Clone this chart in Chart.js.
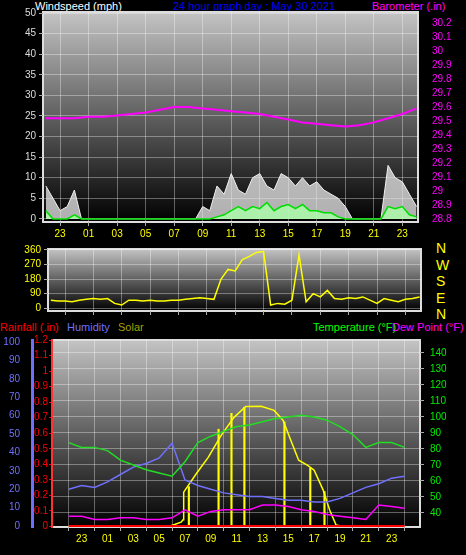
<!DOCTYPE html>
<html><head><meta charset="utf-8">
<script src="https://cdn.jsdelivr.net/npm/chart.js@4.4.0/dist/chart.umd.min.js"></script>
<style>
body{margin:0;background:#000;width:466px;height:555px;overflow:hidden;position:relative;font-family:"Liberation Sans",Arial,sans-serif}
canvas{position:absolute;left:0}
.t{position:absolute;font-size:11px;white-space:nowrap;line-height:12px}
</style></head><body>
<div class="t" style="left:35px;top:0;color:#fff">Windspeed (mph)</div>
<div class="t" style="left:173px;top:0;color:#0000ff">24 hour graph day : May 30 2021</div>
<div class="t" style="left:372px;top:0;color:#ff00ff">Barometer (.in)</div>
<div class="t" style="left:0;top:321px;color:#ff0000">Rainfall (.in)</div>
<div class="t" style="left:67px;top:321px;color:#7070ff">Humidity</div>
<div class="t" style="left:118px;top:321px;color:#a0a000">Solar</div>
<div class="t" style="left:313px;top:321px;color:#00ff00">Temperature (°F)</div>
<div class="t" style="left:392px;top:321px;color:#ff00ff">Dew Point (°F)</div>
<div class="t" style="left:436px;top:240px;color:#ffff00;font-size:14px;line-height:16.5px">N<br>W<br>S<br>E<br>N</div>
<canvas id="c1" width="466" height="245" style="top:0"></canvas>
<canvas id="c2" width="466" height="80" style="top:240px"></canvas>
<canvas id="c3" width="466" height="235" style="top:320px"></canvas>
<script>
// half-hour samples from hour 22 (prev day) to 48
const windHours = Array.from({length:53},(_, i)=>22+i*0.5);
const windGust = [8,5,2,3,7,0, 0,0,0,0,0,0,0,0,0,0,0,0,0,0,0,0,
 3,2,8,6,11,7,6,10,11,8,7,11,10,8,10,8,9,7,6,5,3, 0,0,0,0,0, 13,10,9,6,3];
const windAvg = [2,0,0,0,1,0, 0,0,0,0,0,0,0,0,0,0,0,0,0,0,0,0,
 0,0,0.5,1,2,3,2,3,2.5,4,2,3,3.5,2.5,3.5,2,2,1.5,1.5,0.5,0, 0,0,0,0,0, 3,2.5,3,1,0.5];
const windDir = [50,45,45,40,50,55,60,55,60,30,20,50,50,45,50,45,45,50,50,55,60,65,60,55,
 180,240,230,300,320,345,350,20,30,25,50,330,40,90,70,110,60,55,65,60,70,50,30,60,50,40,55,60,70];
// hourly samples from hour 22 to 48
const hours = Array.from({length:27},(_, i)=>22+i);
const barometer = [29.52,29.52,29.52,29.53,29.53,29.54,29.55,29.56,29.58,29.6,29.6,29.59,29.58,29.57,29.56,29.55,29.53,29.51,29.49,29.48,29.47,29.46,29.47,29.49,29.52,29.55,29.59];
const temperature = [84,81,81,79,73,70,67,65,63,72,84,88,91,94,95,97,99,100,101,100,98,94,89,81,84,84,81];
const humidity = [20,22,21,24,28,32,34,37,45,25,22,20,18,17,16,16,15,14,14,13,13,15,18,21,23,26,27];
const dewPoint = [38,38,36,36,37,37,36,36,37,42,38,41,42,42,42,45,45,44,42,41,39,38,37,36,45,44,43];
const rainfall = [0,0,0,0,0,0,0,0,0,0,0,0,0,0,0,0,0,0,0,0,0,0,0,0,0,0,0];
const solarHours = [22,29.6,30.2,30.7,30.85,30.9,31.9,32.8,33.8,34.8,35.7,36.9,37.9,38.6,39.1,39.8,40.5,41,41.7,42.2,42.7,43.4,48];
const solarValues = [0,0,20,40,60,285,440,570,750,897,986,987,954,872,734,546,505,465,302,139,16,0,0];
const solarSpikeHours = [31.3,33.6,34.6,35.6,38.7,40.7,41.8];
const solarSpikeValues = [330,800,930,980,860,480,290];
const timeTicks = [23,25,27,29,31,33,35,37,39,41,43,45,47];

const pts=(xs,ys)=>xs.map((x,i)=>({x,y:ys[i]}));
const setTicks=arr=>(s)=>{s.ticks=arr.map(v=>({value:v}));};
const range=(a,b,st)=>{const r=[];for(let v=a;v<=b+1e-9;v+=st)r.push(+v.toFixed(2));return r;};
const F={family:'Liberation Sans',size:10};
const bg={id:'bg',beforeDraw(c){const a=c.chartArea,x=c.ctx;const g=x.createLinearGradient(0,a.top,0,a.bottom);
 g.addColorStop(0,'#c4c4c4');g.addColorStop(0.55,'#555');g.addColorStop(1,'#000');
 x.save();x.fillStyle=g;x.fillRect(a.left,a.top,a.right-a.left,a.bottom-a.top);
 x.strokeStyle='#ddd';x.lineWidth=2;x.strokeRect(a.left,a.top,a.right-a.left,a.bottom-a.top);x.restore();}};
const grid={color:'rgba(255,255,255,0.35)',borderDash:[1,2],drawTicks:true,tickLength:4,tickColor:'#aaa'};
const xAxis=(show,h)=>({type:'linear',min:21.8,max:48.1,afterBuildTicks:setTicks(timeTicks),
 afterFit:s=>{s.height=h;},grid:grid,border:{display:false},
 ticks:{display:show,color:'#ffff00',font:F,padding:2,callback:v=>String(v%24).padStart(2,'0')}});
const common={responsive:false,animation:false,plugins:{legend:{display:false},tooltip:{enabled:false}},
 elements:{point:{radius:0},line:{tension:0,borderWidth:1.5}}};

new Chart(document.getElementById('c1'),{type:'line',plugins:[bg],
 data:{datasets:[
  {data:pts(windHours,windAvg),borderColor:'#00dd00',backgroundColor:'rgba(170,255,170,0.8)',fill:'origin',yAxisID:'y',order:1},
  {data:pts(windHours,windGust),borderColor:'#f0f0f0',backgroundColor:'rgba(235,235,235,0.75)',fill:'origin',borderWidth:1,yAxisID:'y',order:2},
  {data:pts(hours,barometer),borderColor:'#ff00ff',borderWidth:2,yAxisID:'yb',order:0}]},
 options:{...common,layout:{padding:{top:11}},scales:{
  x:xAxis(true,23),
  y:{min:-0.75,max:50.25,position:'left',afterBuildTicks:setTicks(range(0,50,5)),afterFit:s=>{s.width=43;},
     grid:grid,border:{display:false},ticks:{color:'#ddd',font:F,padding:3}},
  yb:{min:28.779,max:30.278,position:'right',afterBuildTicks:setTicks(range(28.8,30.2,0.1)),afterFit:s=>{s.width=48;},
     grid:{display:false},border:{display:false},ticks:{color:'#ff00ff',font:F,padding:6,callback:v=>String(+v.toFixed(1))}}}}});

new Chart(document.getElementById('c2'),{type:'line',plugins:[bg],
 data:{datasets:[{data:pts(windHours,windDir),borderColor:'#ffff00',borderWidth:1.5}]},
 options:{...common,layout:{padding:{top:5}},scales:{
  x:xAxis(false,7),
  y:{min:-17,max:366,afterBuildTicks:setTicks([0,90,180,270,360]),afterFit:s=>{s.width=48;},
     grid:grid,border:{display:false},ticks:{color:'#ffff00',font:F,padding:3}},
  yr:{position:'right',min:0,max:1,afterFit:s=>{s.width=45;},display:true,grid:{display:false},border:{display:false},ticks:{display:false}}}}});

new Chart(document.getElementById('c3'),{type:'line',plugins:[bg],
 data:{datasets:[
  {type:'bar',data:pts(solarSpikeHours,solarSpikeValues),backgroundColor:'#ffff00',barThickness:1.5,yAxisID:'ys',order:3},
  {data:pts(solarHours,solarValues),borderColor:'#ffff00',borderWidth:1.5,yAxisID:'ys',order:2},
  {data:pts(hours,temperature),borderColor:'#22dd22',yAxisID:'yt',order:1},
  {data:pts(hours,humidity),borderColor:'#7070ff',yAxisID:'yh',order:1},
  {data:pts(hours,dewPoint),borderColor:'#ff00ff',yAxisID:'yt',order:1},
  {data:pts(hours,rainfall),borderColor:'#ff0000',borderWidth:3,yAxisID:'yr',order:0}]},
 options:{...common,layout:{padding:{top:20}},scales:{
  x:xAxis(true,28),
  yr:{min:-0.003,max:1.2,position:'left',afterBuildTicks:setTicks(range(0,1.2,0.1)),afterFit:s=>{s.width=20;},
     grid:{display:true,drawOnChartArea:false,tickLength:3,tickColor:'#ff0000'},border:{display:true,color:'#ff3333',width:2,dash:[2,2]},
     ticks:{color:'#ff0000',font:F,padding:1,callback:v=>String(+v.toFixed(1))}},
  yh:{min:-0.54,max:101.1,position:'left',afterBuildTicks:setTicks(range(0,100,10)),afterFit:s=>{s.width=32;},
     grid:{display:false},border:{display:true,color:'#7070ff',width:3},ticks:{color:'#7070ff',font:F,padding:4}},
  yt:{min:31.25,max:148.1,position:'right',afterBuildTicks:setTicks(range(40,140,10)),afterFit:s=>{s.width=46;},
     grid:grid,border:{display:false},ticks:{color:'#00ee00',font:F,padding:6}},
  ys:{min:0,max:1530,display:false}}}});
</script></body></html>
